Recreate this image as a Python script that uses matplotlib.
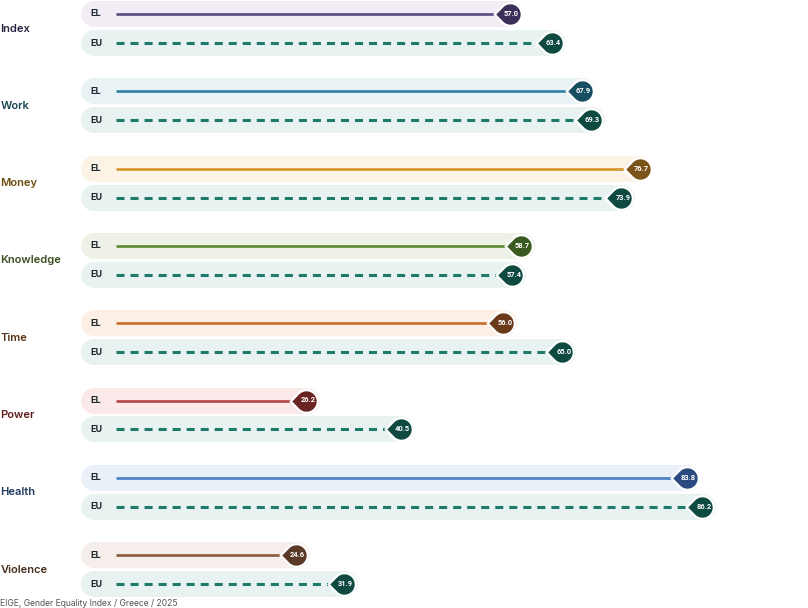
import numpy as np
import matplotlib
matplotlib.use("Agg")
import matplotlib.pyplot as plt
from matplotlib.path import Path

plt.rcParams['lines.scale_dashes'] = False

categories = ["Index", "Work", "Money", "Knowledge", "Time", "Power", "Health", "Violence"]
el_values = [57.0, 67.9, 76.7, 58.7, 56.0, 26.2, 83.8, 24.6]
eu_values = [63.4, 69.3, 73.9, 57.4, 65.0, 40.5, 86.2, 31.9]
series_labels = ["EL", "EU"]
source = "EIGE, Gender Equality Index / Greece / 2025"

el_line_colors = ["#5b4a82", "#2f7fa6", "#d4942a", "#5b8a30", "#cd6b2b", "#b54545", "#4a7ec0", "#8a5a3a"]
el_marker_colors = ["#3b2e58", "#174f60", "#7a5418", "#3b5a1f", "#6b3a18", "#6b2424", "#2a4a80", "#5a3a26"]
el_pill_colors = ["#f2edf5", "#e9f2f5", "#fbf4e6", "#eef2e6", "#fcefe6", "#fbe9e9", "#eaf0f8", "#f5eeea"]
label_colors = ["#2a2440", "#1a4656", "#6b4d12", "#3a5020", "#5a3418", "#5e1e1e", "#1e3a5e", "#4a3020"]
eu_line_color = "#1f7a6c"
eu_marker_color = "#0f4a40"
eu_pill_color = "#e8f3f1"

# teardrop marker pointing left
d = 1.4
th = np.degrees(np.arccos(1 / d))
angs = np.radians(np.linspace(180 - th, -(180 - th), 60))
verts = [(-d, 0)] + [(np.cos(a), np.sin(a)) for a in angs] + [(-d, 0)]
codes = [Path.MOVETO] + [Path.LINETO] * (len(verts) - 2) + [Path.CLOSEPOLY]
drop = Path(verts, codes)

fig = plt.figure(figsize=(8.08, 6.08), dpi=100)
ax = fig.add_axes([0, 0, 1, 1])
ax.axis('off')
px = 6.6
x0 = 133.5
ax.set_xlim(-x0 / px, (808 - x0) / px)
gsp = 77.3
ax.set_ylim((608 - 14) / gsp, -14 / gsp)

eu_off = 29 / gsp
pill_lw = 26 * 0.72
line_start = -2.6
pill_start = -6.0
ms = 20.5

for i, cat in enumerate(categories):
    rows = [(i, el_values[i], el_line_colors[i], el_marker_colors[i], el_pill_colors[i], '-'),
            (i + eu_off, eu_values[i], eu_line_color, eu_marker_color, eu_pill_color, '--')]
    for k, (y, v, lc, mc, pc, ls) in enumerate(rows):
        ax.plot([pill_start, v + 0.1], [y, y], color=pc, lw=pill_lw,
                solid_capstyle='round', zorder=1)
        if ls == '-':
            ax.plot([line_start, v], [y, y], color=lc, lw=1.9, zorder=2,
                    solid_capstyle='butt')
        else:
            ax.plot([line_start, v], [y, y], color=lc, lw=2.2, zorder=2,
                    dashes=(5.8, 4.3), dash_capstyle='butt')
        ax.plot([v], [y], marker=drop, ms=ms + 4.5, color='white', zorder=3, mew=0)
        ax.plot([v], [y], marker=drop, ms=ms, color=mc, zorder=4, mew=0)
        ax.text(v + 0.25, y, f"{v:.1f}", color='white', fontsize=5.4, fontweight='bold',
                ha='center', va='center', family='Roboto', zorder=5)
        ax.text(-6.5, y, series_labels[k], color='#1f2a30', fontsize=6.5, fontweight='bold',
                ha='left', va='center', family='Inter', zorder=5)
    ax.text(-x0 / px + 0.05, i + eu_off / 2, cat, color=label_colors[i], fontsize=8,
            fontweight='semibold', ha='left', va='center', family='Inter')

fig.text(0.0, 1 - 603 / 608, source, fontsize=6.2, color='#555555', ha='left', va='center',
         family='Inter')

fig.savefig("out.png", dpi=100)
